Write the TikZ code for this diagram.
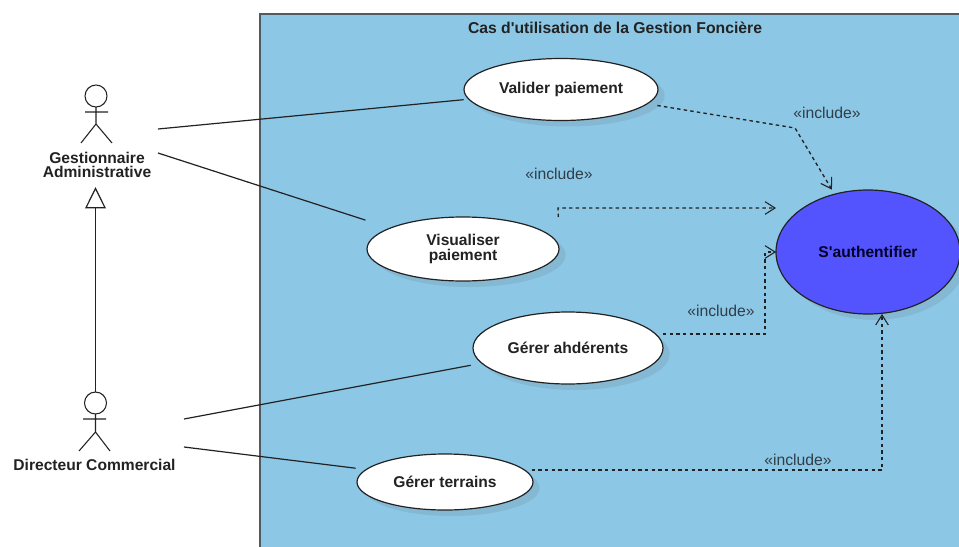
\documentclass[tikz,border=0pt]{standalone}
\usepackage{fontspec}
\setmainfont{Liberation Sans}[Ligatures=TeXOff]
\usetikzlibrary{arrows.meta,shadows,shapes.geometric}
\definecolor{framefill}{HTML}{8DC7E6}
\definecolor{frameline}{HTML}{4F5A62}
\definecolor{shadowc}{HTML}{85B8D3}
\definecolor{authfill}{HTML}{5454FF}
\definecolor{inkc}{HTML}{222222}
\definecolor{labelc}{HTML}{2F3E48}
\tikzset{
  usecase/.style={draw=inkc,line width=.9pt,shape=ellipse,fill=white,inner sep=0pt,outer sep=0pt,
    align=center,text=inkc,font=\fontsize{11.7}{11.2}\selectfont\bfseries,
    drop shadow={shadow xshift=5pt,shadow yshift=-4.5pt,fill=shadowc,opacity=1}},
  actorlabel/.style={inner sep=0pt,outer sep=0pt,align=center,text=inkc,font=\fontsize{11.7}{10.6}\selectfont\bfseries},
  stick/.style={draw=inkc,line width=.8pt},
  assoc/.style={draw=inkc,line width=.9pt},
  incl/.style={draw=inkc,line width=1pt,dash pattern=on 2.6pt off 2.4pt,-{Straight Barb[length=7.5pt,width=9.5pt,line width=.8pt]}},
  gen/.style={draw=inkc,line width=.9pt,-{Triangle[open,fill=white,length=16pt,width=15.5pt,line width=.9pt]}},
  incllabel/.style={inner sep=0pt,text=labelc,font=\fontsize{11.8}{12}\selectfont},
  head/.style={shape=circle,draw=inkc,line width=.8pt,minimum size=16.5pt,inner sep=0pt,outer sep=0pt}
}
\begin{document}
\begin{tikzpicture}[x=.75pt,y=-.75pt]
\useasboundingbox (0,0) rectangle (959,546);
\clip (0,0) rectangle (959,546);
\fill[white] (0,0) rectangle (959,546);
\draw[draw=frameline,fill=framefill,line width=1.1pt] (260,14) rectangle (975,560);
\node[inner sep=0pt,text=inkc,font=\fontsize{11.8}{12}\selectfont\bfseries] (title) at (615,28) {Cas d'utilisation de la Gestion Foncière};
% actors
\node[head] (ghead) at (96,96) {};
\draw[stick] (ghead.south) -- (96,124) (85,112) -- (108,112) (81,143) -- (96,124) -- (112,143);
\node[actorlabel] (glabel) at (97,164.5) {Gestionnaire\\Administrative};
\node[head] (dhead) at (95.5,403) {};
\draw[stick] (dhead.south) -- (95.5,432) (83,419) -- (106,419) (79,451) -- (95.5,432) -- (110,451);
\node[actorlabel] (dlabel) at (94.5,465) {Directeur Commercial};
% use cases
\node[usecase,minimum width=145.5pt,minimum height=46.5pt] (valider) at (561,89.5) {Valider paiement};
\node[usecase,minimum width=144pt,minimum height=48pt] (visu) at (463,249) {Visualiser\\paiement};
\node[usecase,minimum width=142.5pt,minimum height=54pt] (gerer) at (568,348) {Gérer ahdérents};
\node[usecase,minimum width=132pt,minimum height=42pt] (terr) at (445,482) {Gérer terrains};
\node[usecase,fill=authfill,text=black!85!blue,minimum width=138pt,minimum height=93pt] (auth) at (868,252) {S'authentifier};
% free ends
\coordinate (ga1) at (158,129);
\coordinate (ga2) at (158,153);
\coordinate (da1) at (184,419);
\coordinate (da2) at (184,447);
\coordinate (gent) at (95.5,187);
\coordinate (i1) at (795,128);
\coordinate (i2a) at (558,208);
\coordinate (i3) at (765,334);
\coordinate (i4) at (882,470);
% associations
\draw[assoc,shorten >=4pt] (ga1) -- (valider.186);
\draw[assoc,shorten >=19.5pt] (ga2) -- (visu.164);
\draw[assoc,shorten >=8.5pt] (da1) -- (gerer.190);
\draw[assoc,shorten >=8pt] (da2) -- (terr.171.5);
\draw[gen] (dhead.north) -- (gent);
% includes
\draw[incl,shorten >=4pt] ([yshift=-12pt,xshift=-.5pt]valider.east) -- (i1) -- (auth.120.4);
\draw[incl] ([yshift=24pt,xshift=-.5pt]visu.east) -- (i2a) -- (i2a -| auth.west);
\draw[incl] ([yshift=10.5pt]gerer.east) -- (i3) -- (i3 |- auth.west) -- (auth.west);
\draw[incl] ([yshift=9pt,xshift=-1pt]terr.east) -- (i4) -- (i4 |- auth.south);
% labels
\node[incllabel] (l1) at (827,113) {«include»};
\node[incllabel] (l2) at (559,174) {«include»};
\node[incllabel] (l3) at (721,311) {«include»};
\node[incllabel] (l4) at (798,460) {«include»};
\end{tikzpicture}
\end{document}
